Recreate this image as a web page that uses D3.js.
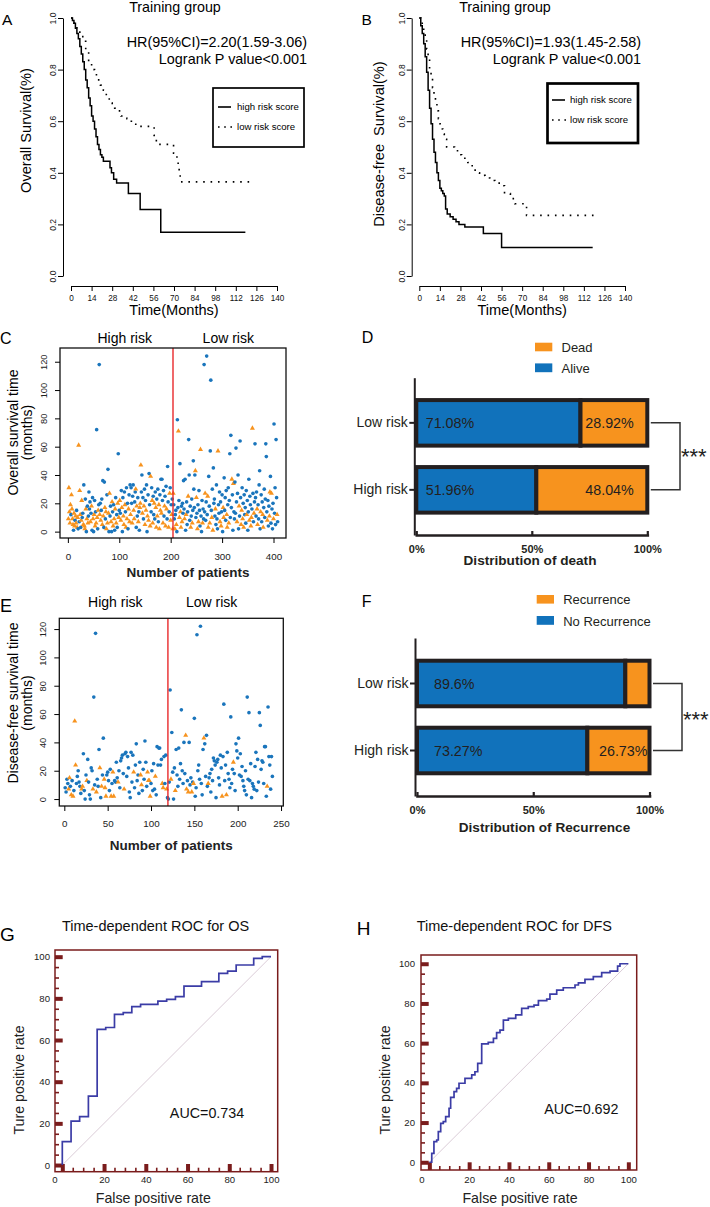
<!DOCTYPE html>
<html>
<head>
<meta charset="utf-8">
<script src="https://cdn.jsdelivr.net/npm/d3@7/dist/d3.min.js"></script>
<style>
html,body{margin:0;padding:0;background:#fff;}
svg{display:block;}
</style>
</head>
<body>
<svg id="fig" width="710" height="1207" xmlns="http://www.w3.org/2000/svg"></svg>
<script>
// ================= DATA =================
// Kaplan-Meier (A: overall survival, B: disease-free survival)
const kmXTicks = [0,14,28,42,56,70,84,98,112,126,140];
const kmYTicks = [0,0.2,0.4,0.6,0.8,1.0];

const osHighTime = [0,1,2,3,4,5,6,7,8,9,10,11,12,13,14,15,16,17,18,19,20,21,22,26.5,27.5,29,31,39,47,61,118.5];
const osHighSurv = [1,0.99,0.98,0.96,0.94,0.92,0.89,0.86,0.83,0.8,0.76,0.73,0.69,0.66,0.62,0.6,0.57,0.54,0.51,0.49,0.47,0.46,0.445,0.42,0.40,0.375,0.36,0.32,0.258,0.17,0.17];
const osLowTime  = [0,2,4,6,8,10,12,14,16,18,20,22,24,26,28,30,34,38,41,44,56.5,58,69.7,72,73.5,74.2,122];
const osLowSurv  = [1,0.98,0.96,0.94,0.91,0.87,0.83,0.8,0.78,0.76,0.74,0.72,0.69,0.67,0.65,0.64,0.62,0.61,0.6,0.58,0.545,0.51,0.476,0.437,0.40,0.365,0.365];

const dfsHighTime = [0,1,2,3,4,5,6,7,8,9,10,11,12,13,14,15,16,17,17.9,19,21,23,25,27,31,43.6,56,118];
const dfsHighSurv = [1,0.97,0.94,0.9,0.85,0.79,0.72,0.65,0.59,0.53,0.48,0.44,0.40,0.37,0.34,0.33,0.32,0.31,0.26,0.24,0.23,0.22,0.21,0.2,0.19,0.165,0.11,0.11];
const dfsLowTime  = [0,1,2,3,4,5,6,7,8,9,10,11,12,13,14,15,16,17,18.6,24,26,28.8,31,33,36,38,41,44.7,48,51.5,56,58,62,65,73,120.7];
const dfsLowSurv  = [1,0.99,0.97,0.95,0.92,0.88,0.84,0.8,0.77,0.73,0.70,0.67,0.64,0.61,0.59,0.57,0.55,0.53,0.50,0.49,0.47,0.46,0.45,0.44,0.42,0.40,0.39,0.38,0.37,0.36,0.35,0.32,0.30,0.28,0.235,0.235];

// Scatter C: patients ordered by risk score, [survival time (months), dead(1)/alive(0)]
const osPatientsHigh = [
[9,1],[31,1],[14,1],[6,1],[19,1],[12,0],[26,1],[16,1],[9,1],[5,1],[1,0],[13,1],[4,1],[8,0],[11,1],[6,1],[15,0],[3,1],[10,1],[2,0],
[61,1],[7,0],[29,1],[12,1],[3,0],[8,1],[22,1],[10,0],[13,0],[5,1],[33,0],[4,1],[2,1],[23,0],[16,1],[0,0],[9,1],[18,0],[6,1],[11,0],
[28,0],[16,0],[21,0],[7,1],[13,0],[18,1],[1,0],[24,0],[9,1],[0,0],[12,1],[22,0],[4,1],[14,0],[6,1],[72,0],[10,1],[2,0],[15,1],[19,0],
[118,0],[12,1],[20,0],[8,1],[15,0],[23,0],[5,1],[36,0],[11,1],[3,0],[35,0],[17,1],[9,0],[14,1],[2,1],[26,0],[6,1],[44,0],[13,1],[0,0],
[27,1],[11,0],[18,0],[7,1],[0,0],[21,1],[14,0],[4,1],[19,0],[9,1],[1,0],[16,1],[24,0],[6,1],[12,0],[3,0],[20,1],[55,0],[10,1],[15,0],
[22,1],[13,0],[8,1],[29,0],[17,1],[0,0],[24,0],[11,1],[5,1],[28,0],[19,1],[14,0],[3,1],[31,0],[9,1],[20,0],[2,0],[16,1],[26,0],[7,1],
[33,0],[12,1],[31,0],[20,0],[6,1],[25,0],[33,0],[15,1],[9,1],[21,0],[28,0],[30,1],[3,0],[18,1],[11,0],[24,0],[7,1],[14,0],[1,0],[17,1],
[20,1],[47,1],[28,0],[40,0],[13,1],[24,0],[9,0],[18,1],[30,0],[5,1],[22,0],[15,1],[33,0],[0,0],[11,1],[26,0],[8,1],[41,0],[19,0],[4,1],
[39,1],[14,0],[31,0],[22,1],[6,1],[25,0],[12,0],[20,1],[9,0],[28,0],[17,1],[3,1],[23,0],[11,1],[30,0],[7,0],[19,1],[2,1],[26,0],[15,1],
[37,0],[13,1],[37,0],[22,0],[6,1],[29,0],[11,0],[18,1],[25,0],[4,1],[32,0],[16,1],[9,0],[46,0],[21,0],[3,1],[14,0],[27,1],[31,0],[8,1],[19,0],[12,1],[23,0],[2,1]
];
const osPatientsLow = [
[27,1],[19,0],[9,0],[2,1],[12,0],[15,0],[5,1],[0,0],[79,0],[17,0],[71,1],[22,0],[10,1],[48,0],[14,1],[3,1],[18,0],[7,1],[20,0],[13,0],
[36,0],[16,0],[9,1],[37,0],[1,0],[12,1],[21,0],[5,0],[14,0],[25,1],[65,0],[40,0],[8,0],[18,0],[3,1],[11,0],[23,0],[6,1],[15,0],[50,0],
[30,0],[17,0],[40,0],[43,1],[10,0],[24,1],[13,0],[2,1],[19,0],[7,1],[29,0],[15,0],[4,0],[58,1],[11,0],[0,0],[22,0],[6,1],[16,0],[9,0],
[118,0],[14,0],[27,1],[8,0],[21,0],[124,0],[12,0],[25,1],[3,1],[39,0],[18,0],[6,1],[57,0],[107,0],[15,0],[10,1],[30,0],[1,1],[45,0],[20,0],
[23,0],[11,0],[16,1],[5,0],[33,0],[9,0],[2,0],[57,1],[19,0],[13,0],[28,0],[7,1],[21,0],[4,1],[14,0],[26,0],[0,0],[17,1],[10,1],[38,0],
[15,0],[24,0],[8,0],[29,0],[12,1],[3,1],[19,0],[31,0],[6,1],[22,0],[55,0],[10,0],[68,0],[17,0],[37,1],[26,0],[1,0],[34,1],[14,0],[9,0],
[35,0],[13,0],[59,0],[21,0],[7,1],[27,0],[40,0],[2,0],[18,1],[11,0],[64,0],[24,0],[5,1],[15,1],[31,0],[9,1],[20,0],[3,1],[26,0],[12,0],
[17,0],[6,0],[29,0],[12,1],[22,0],[1,0],[14,0],[37,0],[8,1],[25,0],[19,0],[4,1],[10,1],[16,0],[73,1],[27,0],[7,0],[13,1],[21,0],[62,0],
[24,0],[11,0],[28,0],[16,1],[5,1],[19,0],[9,0],[33,0],[43,0],[2,0],[14,1],[26,0],[7,0],[21,0],[12,1],[3,1],[17,0],[30,0],[10,0],[23,0],
[62,0],[53,0],[14,0],[8,1],[22,0],[4,0],[18,0],[11,1],[28,1],[39,0],[6,0],[27,1],[16,0],[2,0],[20,0],[9,1],[76,0],[13,0],[31,0],[5,0],[65,0],[24,0],[12,1],[7,0]
];
// Scatter E: [disease-free time (months), recurrence(1)/none(0)]
const dfsPatientsHigh = [
[8,0],[5,0],[14,0],[11,0],[7,1],[15,1],[9,0],[3,1],[13,0],[2,1],
[6,0],[55,1],[24,1],[11,0],[16,0],[20,0],[12,0],[9,0],[4,0],[7,1],
[9,1],[32,0],[6,0],[0,0],[17,0],[13,1],[28,0],[12,0],[3,0],[0,0],
[22,0],[20,0],[7,1],[72,0],[10,0],[117,0],[5,1],[14,0],[9,0],[35,0],
[22,1],[1,0],[9,1],[17,0],[43,0],[14,1],[8,1],[2,1],[17,0],[19,0],
[13,0],[6,0],[21,0],[2,1],[11,0],[19,1],[2,1],[13,0],[12,0],[26,0],
[15,0],[12,1],[20,0],[8,0],[27,0],[29,0],[31,0],[18,0],[7,1],[32,0],
[33,0],[16,0],[30,0],[22,0],[5,0],[1,0],[33,0],[12,0],[31,0],[19,1],
[8,0],[24,0],[39,0],[13,0],[17,0],[4,0],[26,0],[17,1],[10,1],[6,0],
[21,0],[14,0],[41,0],[26,0],[9,0],[19,1],[13,1],[13,1],[2,1],[11,0],
[20,0],[6,0],[25,0],[7,0],[16,1],[3,0],[37,0],[24,0],[36,0],[36,0],
[24,0],[28,0],[11,1],[8,1],[30,0],[11,0],[31,0],[7,1],[1,0]
];
const dfsPatientsLow = [
[0,0],[12,0],[77,0],[14,1],[47,0],[19,0],[0,0],[22,0],[6,1],[35,0],
[17,0],[9,0],[36,0],[14,0],[25,0],[63,0],[20,0],[11,0],[40,0],[18,0],
[45,1],[7,1],[13,0],[5,1],[40,0],[10,0],[15,0],[5,1],[12,0],[11,1],
[57,0],[2,0],[8,0],[116,0],[20,0],[24,0],[14,0],[122,0],[11,0],[3,0],
[35,0],[43,1],[39,0],[16,0],[45,0],[9,0],[11,1],[15,0],[18,0],[5,0],
[21,0],[13,0],[29,0],[27,0],[24,0],[1,0],[26,0],[28,0],[15,0],[10,0],
[31,0],[22,0],[2,1],[30,0],[67,0],[13,0],[24,0],[3,1],[33,0],[18,0],
[14,0],[8,0],[58,0],[11,0],[21,0],[26,1],[18,0],[6,0],[39,0],[34,0],
[29,0],[43,0],[17,0],[32,0],[16,0],[23,0],[13,0],[9,0],[6,0],[20,0],
[3,0],[72,0],[14,0],[61,0],[13,0],[25,0],[1,0],[11,0],[9,0],[7,0],
[23,0],[33,0],[6,0],[28,0],[12,0],[61,0],[52,0],[21,0],[27,0],[26,0],
[11,0],[37,0],[37,0],[2,0],[9,1],[65,0],[30,0],[24,0],[7,0],[30,0],
[16,0]
];
const scatterYTicks = [0,20,40,60,80,100,120];
const scatterXTicksOS = [0,100,200,300,400];
const scatterXTicksDFS = [0,50,100,150,200,250];

// Stacked bars (D, F)
const riskCats = ["Low risk","High risk"];
const alivePct = [71.08, 51.96];
const deadPct  = [28.92, 48.04];
const noRecPct = [89.6, 73.27];
const recPct   = [10.4, 26.73];
const pctTicks = [0,50,100];

// ROC (G, H)
const rocOsFpr = [0,0,4.2,8.3,12.5,16.7,20.8,25,29.2,33.3,37.5,45.8,50,54.2,58.3,66.7,75,79.2,83.3,91.7,95.8,100];
const rocOsTpr = [0,11.2,21.1,23.2,33.1,65.1,66,72.3,73.1,76,77.1,78.7,79.5,80.8,85.9,88,92,93.1,96,99.2,100,100];
const rocDfsFpr = [0,1.2,2.3,3.7,4.5,5.7,7.0,8.2,9.9,10.7,12.4,13.7,14.9,17.9,21.3,22.9,24.3,26.3,29.6,32.2,33.8,35.5,37.2,39.7,43.4,46.4,49.7,52.6,54.8,59,60.6,64,67.3,73.2,74.9,78.2,82.4,86.6,90.8,94.6,95.8,100];
const rocDfsTpr = [0,4.5,10.4,11.2,15.4,19.6,20.5,23,27.2,32.7,35.6,37.2,39.8,42.3,44,45.6,49.8,59.6,60.4,62.4,65.3,66.6,71.6,72.5,74.2,77.5,78.4,79.2,81.4,82.2,84.7,86.7,87.9,89.3,90.4,92.1,93.5,95.5,96.3,98.8,100,100];
const rocMajor = [0,20,40,60,80,100];
const rocMinor = [5,10,15,25,30,35,45,50,55,65,70,75,85,90,95];

// ================= DRAWING =================
const FONT = '"Liberation Sans", Arial, Helvetica, sans-serif';
const BLUE = "#1172bb", ORANGE = "#f7931e", DOTBLUE = "#1a75bc", MAROON = "#7a1c1c";
const svg = d3.select("#fig").attr("font-family", FONT);

function txt(g, x, y, s, o = {}) {
  const t = g.append("text").attr("x", x).attr("y", y).text(s)
    .attr("font-size", o.size || 14).attr("fill", o.fill || "#000")
    .attr("text-anchor", o.anchor || "start");
  if (o.weight) t.attr("font-weight", o.weight);
  if (o.rot) t.attr("transform", `rotate(-90,${x},${y})`);
  if (o.pre) t.style("white-space", "pre");
  return t;
}

// ---------- KM panels ----------
function kmPanel(p) {
  const g = svg.append("g");
  const x = d3.scaleLinear().domain([0, 140]).range([p.x0, p.x1]);
  const y = d3.scaleLinear().domain([0, 1]).range([276, 18]);
  const ya = g.append("g").attr("transform", `translate(${p.ax},0)`)
    .call(d3.axisLeft(y).tickValues(kmYTicks).tickSize(5).tickSizeOuter(0).tickFormat(d3.format(".1f")));
  ya.attr("font-family", FONT).attr("font-size", 8.5);
  ya.selectAll(".tick text").attr("x", 0).attr("dy", 0).attr("text-anchor", "middle")
    .attr("transform", "translate(-7,0) rotate(-90)").attr("fill", "#111");
  const xa = g.append("g").attr("transform", "translate(0,286)")
    .call(d3.axisBottom(x).tickValues(kmXTicks).tickSize(5).tickSizeOuter(0).tickPadding(4.5));
  xa.attr("font-family", FONT).attr("font-size", 8.2);
  xa.selectAll(".tick text").attr("fill", "#111");

  const line = d3.line().x(d => x(d[0])).y(d => y(d[1])).curve(d3.curveStepAfter);
  g.append("path").datum(d3.zip(p.hiT, p.hiS)).attr("d", line)
    .attr("fill", "none").attr("stroke", "#000").attr("stroke-width", 1.5);
  g.append("path").datum(d3.zip(p.loT, p.loS)).attr("d", line)
    .attr("fill", "none").attr("stroke", "#000").attr("stroke-width", 1.6)
    .attr("stroke-dasharray", "1.6,5.8");

  txt(g, p.titleX, 12, "Training group", { size: 14.3, anchor: "middle" });
  txt(g, p.hrX, 47, p.hr, { size: 14.4, anchor: "end" });
  txt(g, p.hrX, 63.5, "Logrank P value<0.001", { size: 14.4, anchor: "end" });
  txt(g, p.ylabX, p.ylabY, p.ylab, { size: 14.6, anchor: "middle", rot: true, pre: true });
  txt(g, x(70), 315, "Time(Months)", { size: 14.6, anchor: "middle" });
  txt(g, p.letterX, 24.5, p.letter, { size: 15.5 });

  const L = p.leg;
  g.append("rect").attr("x", L.x).attr("y", L.y).attr("width", L.w).attr("height", L.h)
    .attr("fill", "none").attr("stroke", "#000").attr("stroke-width", L.sw);
  g.append("line").attr("x1", L.lx0).attr("x2", L.lx1).attr("y1", L.y1).attr("y2", L.y1)
    .attr("stroke", "#000").attr("stroke-width", 1.6);
  g.append("line").attr("x1", L.lx0).attr("x2", L.lx1 + 1).attr("y1", L.y2).attr("y2", L.y2)
    .attr("stroke", "#000").attr("stroke-width", 1.6).attr("stroke-dasharray", "1.6,4.6");
  txt(g, L.tx, L.y1 + 3.4, "high risk score", { size: 9.6 });
  txt(g, L.tx, L.y2 + 3.4, "low risk score", { size: 9.6 });
}

kmPanel({ ax: 63, x0: 71, x1: 277, hiT: osHighTime, hiS: osHighSurv, loT: osLowTime, loS: osLowSurv,
  titleX: 175, hrX: 307, hr: "HR(95%CI)=2.20(1.59-3.06)", ylab: "Overall Survival(%)", ylabX: 31, ylabY: 130.5,
  letter: "A", letterX: 2,
  leg: { x: 213, y: 88, w: 91, h: 59, sw: 1.7, lx0: 218, lx1: 231, tx: 237, y1: 107, y2: 127 } });

kmPanel({ ax: 411.7, x0: 419.3, x1: 625, hiT: dfsHighTime, hiS: dfsHighSurv, loT: dfsLowTime, loS: dfsLowSurv,
  titleX: 505, hrX: 641, hr: "HR(95%CI)=1.93(1.45-2.58)", ylab: "Disease-free  Survival(%)", ylabX: 384, ylabY: 144,
  letter: "B", letterX: 361.5,
  leg: { x: 547.5, y: 83.5, w: 90.5, h: 59.5, sw: 2.7, lx0: 552, lx1: 565, tx: 570, y1: 100, y2: 120 } });

// ---------- Scatter panels ----------
function scatterPanel(p) {
  const g = svg.append("g");
  const x = d3.scaleLinear().domain(p.xd).range([p.bx0, p.bx1]);
  const y = d3.scaleLinear().domain(p.yd).range([p.by1, p.by0]);
  const pts = p.high.concat(p.low).map((d, i) => ({ i: i + 1, t: d[0], ev: d[1] }));
  const sym = d3.symbol().type(d => d.ev ? d3.symbolTriangle : d3.symbolCircle).size(d => d.ev ? 11 : 10.5);
  g.selectAll("path.pt").data(pts).join("path").attr("class", "pt")
    .attr("transform", d => `translate(${x(d.i)},${y(d.t)})`)
    .attr("d", sym).attr("fill", d => d.ev ? ORANGE : DOTBLUE);
  const split = p.high.length + 0.5;
  g.append("line").attr("x1", x(split)).attr("x2", x(split)).attr("y1", p.by0).attr("y2", p.by1)
    .attr("stroke", "#e8292b").attr("stroke-width", 1.4);
  g.append("rect").attr("x", p.bx0).attr("y", p.by0).attr("width", p.bx1 - p.bx0).attr("height", p.by1 - p.by0)
    .attr("fill", "none").attr("stroke", "#111").attr("stroke-width", 1.3);

  const ya = g.append("g").attr("transform", `translate(${p.bx0},0)`)
    .call(d3.axisLeft(y).tickValues(scatterYTicks).tickSize(5).tickSizeOuter(0));
  ya.select(".domain").remove();
  ya.attr("font-family", FONT).attr("font-size", 9.3);
  ya.selectAll(".tick text").attr("x", 0).attr("dy", 0).attr("text-anchor", "middle")
    .attr("transform", "translate(-13,0) rotate(-90)").attr("fill", "#222");
  const xa = g.append("g").attr("transform", `translate(0,${p.by1})`)
    .call(d3.axisBottom(x).tickValues(p.xTicks).tickSize(5).tickSizeOuter(0).tickPadding(p.xPad));
  xa.select(".domain").remove();
  xa.attr("font-family", FONT).attr("font-size", 9.8);
  xa.selectAll(".tick text").attr("fill", "#222");

  txt(g, p.hiX, p.grpY, "High risk", { size: 14, anchor: "middle" });
  txt(g, p.loX, p.grpY, "Low risk", { size: 14, anchor: "middle" });
  txt(g, p.nX, p.nY, "Number of patients", { size: 13.5, anchor: "middle", weight: "bold", fill: "#222" });
  txt(g, 17.5, p.ylY, p.ylab, { size: 14, anchor: "middle", rot: true });
  txt(g, 31.5, p.ylY, "(months)", { size: 14, anchor: "middle", rot: true });
  txt(g, 0, p.letterY, p.letter, { size: p.letterSize });
}

scatterPanel({ high: osPatientsHigh, low: osPatientsLow, bx0: 60, bx1: 286, by0: 348, by1: 538,
  xd: [-15.3, 424.3], yd: [-4.5, 129.7], xTicks: scatterXTicksOS, xPad: 10,
  hiX: 124.7, loX: 228.3, grpY: 342.5, nX: 188, nY: 577, ylab: "Overall survival time", ylY: 432.5,
  letter: "C", letterY: 344, letterSize: 16 });

scatterPanel({ high: dfsPatientsHigh, low: dfsPatientsLow, bx0: 59.3, bx1: 283.3, by0: 618.3, by1: 806,
  xd: [-5.8, 252.6], yd: [-4.9, 127.6], xTicks: scatterXTicksDFS, xPad: 9.5,
  hiX: 115.3, loX: 211.7, grpY: 607, nX: 171.3, nY: 849.5, ylab: "Disease-free survival time", ylY: 703,
  letter: "E", letterY: 611.7, letterSize: 18 });

// ---------- Stacked bar panels ----------
function barPanel(p) {
  const g = svg.append("g");
  const x = d3.scaleLinear().domain([0, 100]).range([p.x0, p.x1]);
  const y = d3.scaleBand().domain(riskCats).range([p.ay0, p.ay1]).paddingInner(0.32).paddingOuter(p.po);
  const bw = y.bandwidth();
  riskCats.forEach((c, k) => {
    const a = p.a[k], b = p.b[k];
    g.append("rect").attr("x", x(0)).attr("y", y(c)).attr("width", x(a) - x(0)).attr("height", bw)
      .attr("fill", BLUE).attr("stroke", "#231f20").attr("stroke-width", 4);
    g.append("rect").attr("x", x(a)).attr("y", y(c)).attr("width", x(a + b) - x(a)).attr("height", bw)
      .attr("fill", ORANGE).attr("stroke", "#231f20").attr("stroke-width", 4);
    const cy = y(c) + bw / 2;
    txt(g, x(0) + p.bluePad, cy, a + "%", { size: 14.3, fill: "#231f20" }).attr("dy", "0.36em");
    if (p.showB[k]) txt(g, x(100) - p.orangePad, cy, b + "%", { size: 14.3, fill: "#231f20", anchor: "end" }).attr("dy", "0.36em");
  });
  const ya = g.append("g").attr("transform", `translate(${p.axX},0)`)
    .call(d3.axisLeft(y).tickSize(5).tickPadding(1.5).tickSizeOuter(0));
  ya.attr("font-family", FONT).attr("font-size", 14);
  ya.selectAll("path,line").attr("stroke", "#231f20").attr("stroke-width", 2);
  ya.selectAll(".tick text").attr("fill", "#231f20");
  const xa = g.append("g").attr("transform", `translate(0,${p.ay1})`)
    .call(d3.axisBottom(x).tickValues(pctTicks).tickFormat(d => d + "%").tickSize(-4).tickSizeOuter(0).tickPadding(10));
  xa.attr("font-family", FONT).attr("font-size", 11).attr("font-weight", "bold");
  xa.select(".domain").attr("stroke-width", 2.6).attr("stroke-linecap", "square").attr("stroke", "#231f20");
  xa.selectAll(".tick line").attr("stroke-width", 2.2).attr("stroke", "#231f20");
  xa.selectAll(".tick text").attr("fill", "#231f20");
  txt(g, p.xlabX, p.xlabY, p.xlab, { size: 13.6, anchor: "middle", weight: "bold", fill: "#231f20" });

  // significance bracket
  const c1 = y(riskCats[0]) + bw / 2, c2 = y(riskCats[1]) + bw / 2;
  g.append("path").attr("d", `M${x(100) + 3.5},${c1}H${p.brX}V${c2}H${x(100) + 3.5}`)
    .attr("fill", "none").attr("stroke", "#333").attr("stroke-width", 1.5);
  txt(g, p.brX + 1, p.starY, "***", { size: 22, fill: "#222" });

  // legend
  g.append("rect").attr("x", p.lgX).attr("y", p.lgY1).attr("width", 17.3).attr("height", 8.6).attr("fill", ORANGE);
  g.append("rect").attr("x", p.lgX).attr("y", p.lgY2).attr("width", 17.3).attr("height", 8.8).attr("fill", BLUE);
  txt(g, p.lgX + 26.5, p.lgY1 + 9, p.legB, { size: 13, fill: "#231f20" });
  txt(g, p.lgX + 26.5, p.lgY2 + 9.5, p.legA, { size: 13, fill: "#231f20" });
  txt(g, 361.7, p.letterY, p.letter, { size: 16 });
}

barPanel({ a: alivePct, b: deadPct, x0: 416.3, x1: 647.3, axX: 414.3, ay0: 377.7, ay1: 535, po: 0.334,
  bluePad: 9.4, orangePad: 13.5, showB: [true, true], xlab: "Distribution of death", xlabX: 530, xlabY: 565,
  brX: 680, starY: 464, lgX: 535, lgY1: 342.7, lgY2: 363.4, legB: "Dead", legA: "Alive", letter: "D", letterY: 343.3 });

barPanel({ a: noRecPct, b: recPct, x0: 417, x1: 649.5, axX: 415, ay0: 638, ay1: 796, po: 0.339,
  bluePad: 17, orangePad: 2, showB: [false, true], xlab: "Distribution of Recurrence", xlabX: 544.5, xlabY: 831.5,
  brX: 682, starY: 727, lgX: 536.7, lgY1: 595, lgY2: 616, legB: "Recurrence", legA: "No Recurrence", letter: "F", letterY: 607.3 });

// ---------- ROC panels ----------
function rocPanel(p) {
  const g = svg.append("g");
  const x = d3.scaleLinear().domain(p.xd).range([p.bx0, p.bx1]);
  const y = d3.scaleLinear().domain(p.yd).range([p.by1, p.by0]);
  g.append("line").attr("x1", x(0)).attr("y1", y(0)).attr("x2", x(100)).attr("y2", y(100))
    .attr("stroke", "#d6c6d2").attr("stroke-width", 0.9);

  function ticks(axisFn, tr, vals, size, w, pad, fmt) {
    const a = g.append("g").attr("transform", tr)
      .call(axisFn.tickValues(vals).tickSize(size).tickSizeOuter(0).tickPadding(pad).tickFormat(fmt));
    a.select(".domain").remove();
    a.selectAll(".tick line").attr("stroke", MAROON).attr("stroke-width", w);
    a.attr("font-family", FONT).attr("font-size", 9.6);
    a.selectAll(".tick text").attr("fill", "#222");
    return a;
  }
  ticks(d3.axisLeft(y), `translate(${p.bx0},0)`, rocMinor, -4, 1.6, 0, () => "");
  ticks(d3.axisBottom(x), `translate(0,${p.by1})`, rocMinor, -4, 1.6, 0, () => "");
  ticks(d3.axisLeft(y), `translate(${p.bx0},0)`, rocMajor, -7.7, 4, p.yPad, d3.format("d"));
  const xb = ticks(d3.axisBottom(x), `translate(0,${p.by1})`, rocMajor, -7.7, 4, p.xPad, d3.format("d"));
  xb.selectAll(".tick text").filter(d => d === 0).attr("dx", -8);

  const line = d3.line().x(d => x(d[0])).y(d => y(d[1])).curve(d3.curveStepAfter);
  g.append("path").datum(d3.zip(p.fpr, p.tpr)).attr("d", line)
    .attr("fill", "none").attr("stroke", "#3b3ca6").attr("stroke-width", 1.7);
  g.append("rect").attr("x", p.bx0).attr("y", p.by0).attr("width", p.bx1 - p.bx0).attr("height", p.by1 - p.by0)
    .attr("fill", "none").attr("stroke", MAROON).attr("stroke-width", 1.5);

  txt(g, p.titleX, 930.5, p.title, { size: 14.5, anchor: "middle", fill: "#111" });
  txt(g, p.aucX, p.aucY, p.auc, { size: 14.3, anchor: "middle", fill: "#111" });
  txt(g, p.fX, 1203, "False positive rate", { size: 14.2, anchor: "middle", fill: "#222" });
  txt(g, p.tX, 1080, "Ture positive rate", { size: 14.2, anchor: "middle", fill: "#222", rot: true });
  txt(g, p.letterX, p.letterY, p.letter, { size: 19 });
}

rocPanel({ fpr: rocOsFpr, tpr: rocOsTpr, bx0: 55, bx1: 277.7, by0: 950, by1: 1171.7, xd: [-3.5, 103.2], yd: [-3.2, 103.2],
  yPad: 5, xPad: 4.6, title: "Time-dependent ROC for OS", titleX: 155.5, auc: "AUC=0.734", aucX: 207, aucY: 1117.5,
  fX: 153.3, tX: 23.5, letter: "G", letterX: 0, letterY: 940.7 });

rocPanel({ fpr: rocDfsFpr, tpr: rocDfsTpr, bx0: 421, bx1: 636.7, by0: 955, by1: 1170, xd: [-4.2, 104.2], yd: [-3.9, 104.4],
  yPad: 6, xPad: 6.3, title: "Time-dependent ROC for DFS", titleX: 514.3, auc: "AUC=0.692", aucX: 581.3, aucY: 1114,
  fX: 520, tX: 390, letter: "H", letterX: 356.7, letterY: 935 });
</script>
</body>
</html>
